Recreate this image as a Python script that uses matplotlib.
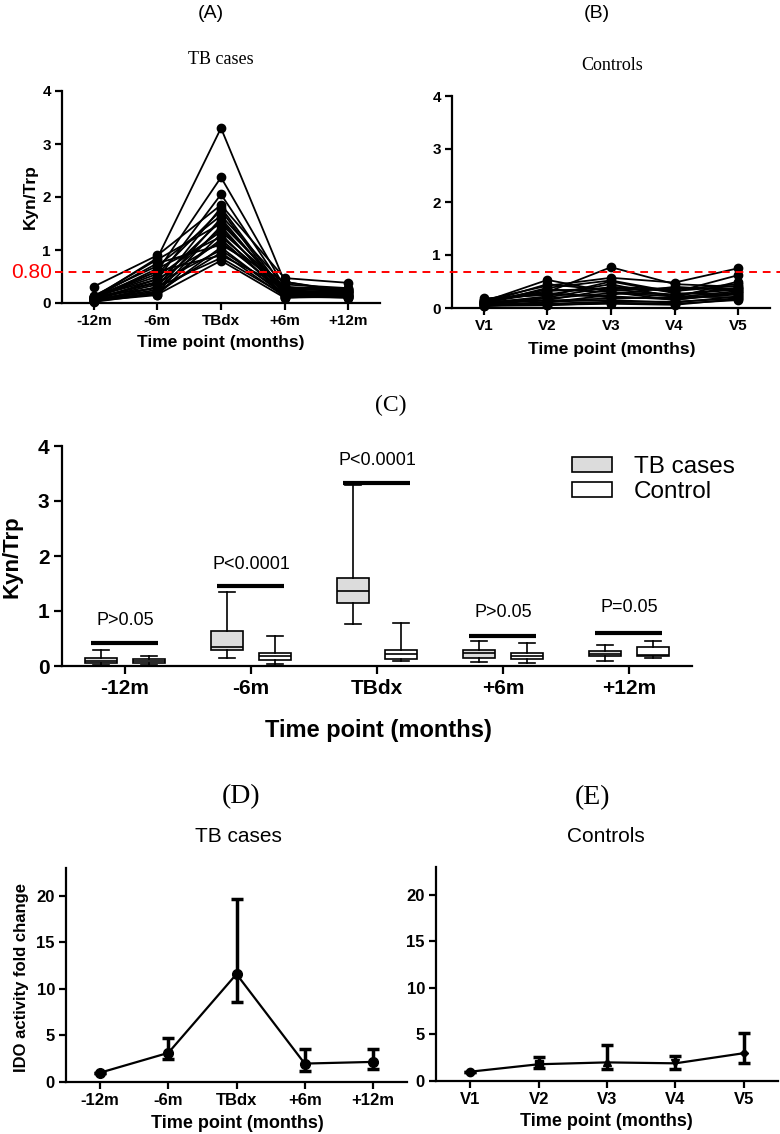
import numpy as np
import matplotlib
matplotlib.use("Agg")
from matplotlib import pyplot as plt
from matplotlib.patches import Patch

plt.rcParams['font.family'] = ['Liberation Sans', 'DejaVu Sans']
SERIF = ['Liberation Serif', 'DejaVu Serif']

# ---- data ----
months = ['-12m', '-6m', 'TBdx', '+6m', '+12m']
visits = ['V1', 'V2', 'V3', 'V4', 'V5']

# (A) individual TB cases, Kyn/Trp at -12m, -6m, TBdx, +6m, +12m
tb_m12 = [0.10, 0.08, 0.12, 0.31, 0.05, 0.10, 0.14, 0.06, 0.09, 0.12, 0.03, 0.07,
          0.11, 0.04, 0.08, 0.13, 0.05, 0.10, 0.02, 0.09, 0.06, 0.12, 0.04, 0.08]
tb_m6 = [0.85, 0.60, 0.45, 0.90, 0.30, 0.55, 0.70, 0.25, 0.40, 0.82, 0.20, 0.35,
         0.50, 0.15, 0.65, 0.28, 0.45, 0.75, 0.18, 0.38, 0.22, 0.60, 0.30, 0.16]
tb_dx = [3.30, 2.37, 2.05, 1.85, 1.80, 1.75, 1.65, 1.60, 1.55, 1.50, 1.45, 1.40,
         1.35, 1.30, 1.25, 1.20, 1.15, 1.10, 1.05, 1.00, 0.95, 0.90, 0.85, 0.80]
tb_p6 = [0.40, 0.30, 0.25, 0.47, 0.20, 0.15, 0.35, 0.18, 0.22, 0.28, 0.12, 0.20,
         0.30, 0.10, 0.25, 0.16, 0.22, 0.40, 0.14, 0.18, 0.12, 0.30, 0.15, 0.10]
tb_p12 = [0.22, 0.20, 0.18, 0.38, 0.15, 0.25, 0.28, 0.12, 0.20, 0.26, 0.10, 0.16,
          0.22, 0.12, 0.24, 0.18, 0.14, 0.20, 0.10, 0.16, 0.13, 0.27, 0.11, 0.15]

# (B) individual controls at V1..V5
ct_v1 = [0.12, 0.10, 0.15, 0.08, 0.18, 0.05, 0.10, 0.12, 0.06, 0.14,
         0.09, 0.03, 0.11, 0.07, 0.13, 0.04, 0.16, 0.08, 0.10, 0.05]
ct_v2 = [0.53, 0.30, 0.42, 0.38, 0.25, 0.20, 0.15, 0.35, 0.10, 0.28,
         0.22, 0.12, 0.18, 0.08, 0.32, 0.05, 0.26, 0.14, 0.45, 0.06]
ct_v3 = [0.30, 0.77, 0.57, 0.52, 0.45, 0.40, 0.35, 0.30, 0.25, 0.20,
         0.50, 0.15, 0.28, 0.12, 0.38, 0.10, 0.22, 0.18, 0.33, 0.08]
ct_v4 = [0.25, 0.45, 0.48, 0.30, 0.20, 0.35, 0.25, 0.15, 0.40, 0.18,
         0.28, 0.10, 0.22, 0.12, 0.32, 0.08, 0.16, 0.20, 0.38, 0.06]
ct_v5 = [0.35, 0.40, 0.75, 0.62, 0.50, 0.45, 0.38, 0.30, 0.33, 0.28,
         0.25, 0.22, 0.20, 0.18, 0.42, 0.15, 0.26, 0.32, 0.36, 0.17]

# (C) box summaries
tb_whislo = [0.025, 0.15, 0.76, 0.067, 0.10]
tb_q1 = [0.055, 0.285, 1.145, 0.15, 0.176]
tb_med = [0.10, 0.345, 1.357, 0.236, 0.224]
tb_q3 = [0.145, 0.636, 1.606, 0.297, 0.273]
tb_whishi = [0.30, 1.345, 3.30, 0.46, 0.39]
ct_whislo = [0.01, 0.04, 0.09, 0.055, 0.15]
ct_q1 = [0.055, 0.115, 0.127, 0.127, 0.176]
ct_med = [0.09, 0.18, 0.218, 0.188, 0.206]
ct_q3 = [0.12, 0.236, 0.30, 0.236, 0.345]
ct_whishi = [0.18, 0.54, 0.776, 0.424, 0.46]
p_labels = ['P>0.05', 'P<0.0001', 'P<0.0001', 'P>0.05', 'P=0.05']
p_bar_y = [0.41, 1.45, 3.33, 0.545, 0.606]
p_text_y = [0.82, 1.84, 3.74, 0.964, 1.07]

# (D) / (E) IDO activity fold change, point with error range
d_mean = [1.0, 3.13, 11.6, 1.98, 2.16]
d_lo = [1.0, 2.45, 8.58, 1.19, 1.44]
d_hi = [1.0, 4.68, 19.7, 3.53, 3.50]
e_mean = [1.0, 1.80, 2.00, 1.90, 2.99]
e_lo = [1.0, 1.37, 1.26, 1.30, 1.98]
e_hi = [1.0, 2.63, 3.88, 2.73, 5.14]
e_markers = ['o', 's', '^', 'v', 'D']

W, H = 780, 1134
fig = plt.figure(figsize=(W / 100, H / 100), dpi=100)


def add_ax(l, t, r, b):
    return fig.add_axes([l / W, 1 - b / H, (r - l) / W, (b - t) / H])


def ftext(x, y, s, **kw):
    fig.text(x / W, 1 - y / H, s, ha='center', va='center', **kw)


def style(ax, size):
    for s in ['top', 'right']:
        ax.spines[s].set_visible(False)
    for s in ['left', 'bottom']:
        ax.spines[s].set_linewidth(1.6)
    ax.tick_params(width=1.6, length=5, labelsize=size, pad=3)
    for lab in ax.get_xticklabels() + ax.get_yticklabels():
        lab.set_fontweight('bold')


x5 = np.arange(1, 6)

# ---- (A) ----
axA = add_ax(62, 91, 380, 303)
for row in zip(tb_m12, tb_m6, tb_dx, tb_p6, tb_p12):
    axA.plot(x5, row, '-o', color='black', lw=1.3, ms=6, clip_on=False)
axA.set_xlim(0.5, 5.5)
axA.set_ylim(0, 4)
axA.set_yticks([0, 1, 2, 3, 4])
axA.set_xticks(x5)
axA.set_xticklabels(months)
style(axA, 11)
ftext(211, 13, '(A)', fontsize=14)
ftext(221, 60, 'TB cases', fontsize=13, family=SERIF)
ftext(30, 197, 'Kyn/Trp', fontsize=12.5, fontweight='bold', rotation=90)
ftext(221, 343, 'Time point (months)', fontsize=12.5, fontweight='bold')

# ---- (B) ----
axB = add_ax(452, 96, 770, 308)
for row in zip(ct_v1, ct_v2, ct_v3, ct_v4, ct_v5):
    axB.plot(x5, row, '-o', color='black', lw=1.3, ms=6, clip_on=False)
axB.set_xlim(0.5, 5.5)
axB.set_ylim(0, 4)
axB.set_yticks([0, 1, 2, 3, 4])
axB.set_xticks(x5)
axB.set_xticklabels(visits)
style(axB, 11)
ftext(597, 14, '(B)', fontsize=14)
ftext(612, 65, 'Controls', fontsize=13, family=SERIF)
ftext(612, 349, 'Time point (months)', fontsize=12.5, fontweight='bold')

# threshold line across both panels
fig.add_artist(plt.Line2D([55 / W, 1.0], [1 - 272 / H] * 2, color='red', lw=1.4,
                          ls=(0, (4, 3)), transform=fig.transFigure))
fig.text(52 / W, 1 - 272 / H, '0.80', color='red', fontsize=15, ha='right', va='center')

# ---- (C) ----
axC = add_ax(62, 446, 692, 666)
tb_stats = [dict(whislo=a, q1=b, med=c, q3=d, whishi=e, fliers=[])
            for a, b, c, d, e in zip(tb_whislo, tb_q1, tb_med, tb_q3, tb_whishi)]
ct_stats = [dict(whislo=a, q1=b, med=c, q3=d, whishi=e, fliers=[])
            for a, b, c, d, e in zip(ct_whislo, ct_q1, ct_med, ct_q3, ct_whishi)]
common = dict(widths=0.26, patch_artist=True, showfliers=False,
              whiskerprops=dict(color='black', lw=1.2),
              capprops=dict(color='black', lw=1.2),
              medianprops=dict(color='black', lw=1.2))
axC.bxp(tb_stats, positions=x5 - 0.19, boxprops=dict(facecolor='#dcdcdc', edgecolor='black', lw=1.2), **common)
axC.bxp(ct_stats, positions=x5 + 0.19, boxprops=dict(facecolor='white', edgecolor='black', lw=1.2), **common)
for xi, yb, yt, lab in zip(x5, p_bar_y, p_text_y, p_labels):
    axC.plot([xi - 0.27, xi + 0.26], [yb, yb], color='black', lw=3, solid_capstyle='butt')
    axC.text(xi, yt, lab, ha='center', va='center', fontsize=13)
axC.set_xlim(0.5, 5.5)
axC.set_ylim(0, 4)
axC.set_yticks([0, 1, 2, 3, 4])
axC.set_xticks(x5)
axC.set_xticklabels(months)
style(axC, 15)
axC.tick_params(length=6)
axC.legend(handles=[Patch(facecolor='#dcdcdc', edgecolor='black', lw=1.2, label='TB cases'),
                    Patch(facecolor='white', edgecolor='black', lw=1.2, label='Control')],
           loc='upper left', bbox_to_anchor=(560 / W, 1 - 444 / H), bbox_transform=fig.transFigure,
           frameon=False, fontsize=17.5, borderpad=0, handlelength=1.65, handleheight=0.55,
           handletextpad=0.9, labelspacing=0.12)
ftext(391, 405, '(C)', fontsize=17, family=SERIF)
ftext(12, 557, 'Kyn/Trp', fontsize=16, fontweight='bold', rotation=90)
ftext(378, 730, 'Time point (months)', fontsize=17, fontweight='bold')

# ---- (D) ----
axD = add_ax(66, 868, 407, 1082)
axD.plot(x5, d_mean, '-o', color='black', lw=1.6, ms=7, clip_on=False, zorder=3)
axD.errorbar(x5, d_mean, yerr=[np.subtract(d_mean, d_lo), np.subtract(d_hi, d_mean)], fmt='none',
             ecolor='black', elinewidth=2.5, capsize=4, capthick=2.5)
axD.set_xlim(0.5, 5.5)
axD.set_ylim(0, 23)
axD.set_yticks([0, 5, 10, 15, 20])
axD.set_xticks(x5)
axD.set_xticklabels(months)
style(axD, 12)
ftext(241, 797, '(D)', fontsize=20, family=SERIF)
ftext(238, 836, 'TB cases', fontsize=15)
ftext(22, 977, 'IDO activity fold change', fontsize=12, fontweight='bold', rotation=90)
ftext(237, 1123, 'Time point (months)', fontsize=13, fontweight='bold')

# ---- (E) ----
axE = add_ax(436, 867, 778, 1081)
axE.plot(x5, e_mean, '-', color='black', lw=1.6, zorder=3)
for xi, yi, m in zip(x5, e_mean, e_markers):
    axE.plot(xi, yi, marker=m, color='black', ms=6 if m != 'D' else 4, clip_on=False, zorder=4)
axE.errorbar(x5, e_mean, yerr=[np.subtract(e_mean, e_lo), np.subtract(e_hi, e_mean)], fmt='none',
             ecolor='black', elinewidth=2.5, capsize=4, capthick=2.5)
axE.set_xlim(0.5, 5.5)
axE.set_ylim(0, 23)
axE.set_yticks([0, 5, 10, 15, 20])
axE.set_xticks(x5)
axE.set_xticklabels(visits)
style(axE, 12)
ftext(593, 798, '(E)', fontsize=20, family=SERIF)
ftext(606, 836, 'Controls', fontsize=15)
ftext(606, 1122, 'Time point (months)', fontsize=13, fontweight='bold')

fig.savefig('out.png', dpi=100, facecolor='white')
